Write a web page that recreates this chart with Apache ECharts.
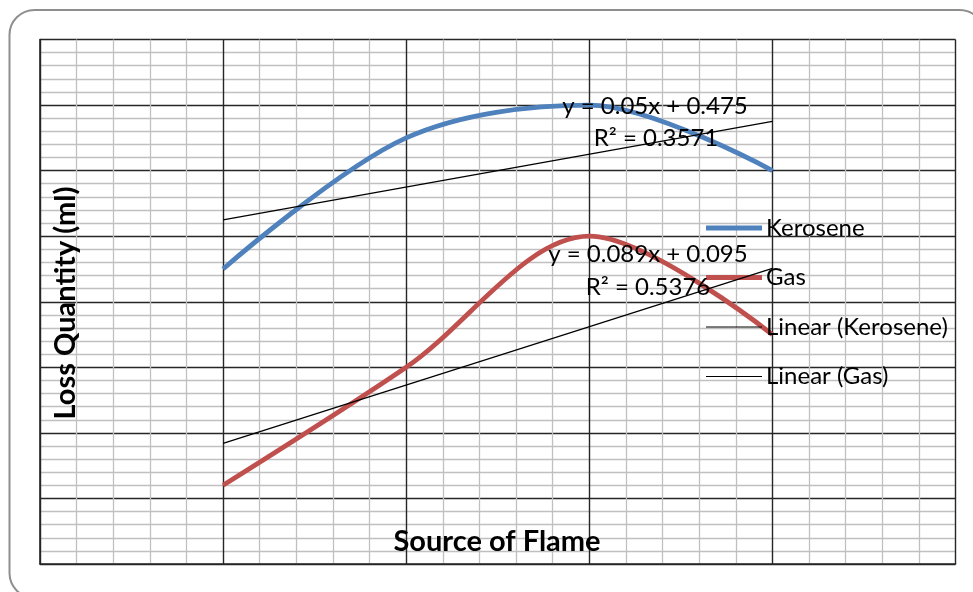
<!DOCTYPE html>
<html>
<head>
<meta charset="utf-8">
<script src="https://cdn.jsdelivr.net/npm/echarts@6/dist/echarts.min.js"></script>
<style>
html,body{margin:0;padding:0;background:#fff;}
#chart{width:973px;height:592px;}
</style>
</head>
<body>
<div id="chart"></div>
<script>
// ---- data ----
const xValues = [1, 2, 3, 4];
const kerosene = [0.45, 0.65, 0.70, 0.60];
const gas = [0.12, 0.30, 0.50, 0.35];
const trendX = [1, 4];
const keroseneTrend = [0.525, 0.675];
const gasTrend = [0.184, 0.451];
const seriesNames = ['Kerosene', 'Gas', 'Linear (Kerosene)', 'Linear (Gas)'];
const keroseneEq = ['y = 0.05x + 0.475', 'R² = 0.3571'];
const gasEq = ['y = 0.089x + 0.095', 'R² = 0.5376'];
const xTitle = 'Source of Flame';
const yTitle = 'Loss Quantity (ml)';

const pair = (xs, ys) => xs.map((x, i) => [x, ys[i]]);
const FONT = 'Lato, "Liberation Sans", sans-serif';
const BLUE = '#4F81BD', RED = '#C0504D';

const chart = echarts.init(document.getElementById('chart'), null, {renderer: 'canvas'});

const majorLine = {show: true, lineStyle: {color: '#262626', width: 1.4}};
const minorLine = {show: true, lineStyle: {color: '#c0c0c0', width: 1.3}};

// legend swatches: a band inside a 56x14 box (leading moves fix the box)
const thickIcon = 'path://M0,0M56,14M0,4.6L56,4.6L56,9.4L0,9.4Z';
const thinIcon = 'path://M0,0M56,14M0,6.4L56,6.4L56,7.6L0,7.6Z';

const option = {
  animation: false,
  backgroundColor: '#fff',
  grid: {left: 40, right: 17.5, top: 39.5, bottom: 28, containLabel: false},
  xAxis: {
    type: 'value', min: 0, max: 5, interval: 1,
    axisLine: {show: true, lineStyle: {color: '#262626', width: 1.6}},
    axisTick: {show: false}, axisLabel: {show: false},
    splitLine: majorLine,
    minorTick: {show: false, splitNumber: 5},
    minorSplitLine: minorLine
  },
  yAxis: {
    type: 'value', min: 0, max: 0.8, interval: 0.1,
    axisLine: {show: true, lineStyle: {color: '#262626', width: 1.6}},
    axisTick: {show: false}, axisLabel: {show: false},
    splitLine: majorLine,
    minorTick: {show: false, splitNumber: 5},
    minorSplitLine: minorLine
  },
  legend: {
    orient: 'vertical',
    left: 701, top: 211,
    itemWidth: 56, itemHeight: 14, itemGap: 25.5,
    textStyle: {fontFamily: FONT, fontSize: 24, lineHeight: 24, color: '#000', padding: [0, 0, 0, -1]},
    data: [
      {name: seriesNames[0], icon: thickIcon, itemStyle: {color: BLUE, borderWidth: 0}},
      {name: seriesNames[1], icon: thickIcon, itemStyle: {color: RED, borderWidth: 0}},
      {name: seriesNames[2], icon: thinIcon, itemStyle: {color: '#000', borderWidth: 0}},
      {name: seriesNames[3], icon: thinIcon, itemStyle: {color: '#000', borderWidth: 0}}
    ]
  },
  series: [
    {name: seriesNames[0], type: 'line', data: pair(xValues, kerosene), smooth: 0.33,
     symbol: 'none', lineStyle: {color: BLUE, width: 4.8}, itemStyle: {color: BLUE}, z: 3},
    {name: seriesNames[1], type: 'line', data: pair(xValues, gas), smooth: 0.33,
     symbol: 'none', lineStyle: {color: RED, width: 4.8}, itemStyle: {color: RED}, z: 3},
    {name: seriesNames[2], type: 'line', data: pair(trendX, keroseneTrend),
     symbol: 'none', lineStyle: {color: '#000', width: 1.2}, itemStyle: {color: '#000'}, z: 4},
    {name: seriesNames[3], type: 'line', data: pair(trendX, gasTrend),
     symbol: 'none', lineStyle: {color: '#000', width: 1.2}, itemStyle: {color: '#000'}, z: 4}
  ],
  graphic: [
    {type: 'rect', z: -10, silent: true,
     shape: {x: 9.5, y: 10, width: 975, height: 588, r: 25},
     style: {fill: 'none', stroke: '#8f8f8f', lineWidth: 2}},
    {type: 'text', z: 100, x: 66, y: 303, rotation: Math.PI / 2,
     style: {text: yTitle, font: 'bold 29px ' + FONT, fill: '#000', align: 'center', verticalAlign: 'middle'}},
    {type: 'text', z: 100, x: 497, y: 542,
     style: {text: xTitle, font: 'bold 29px ' + FONT, fill: '#000', align: 'center', verticalAlign: 'middle'}},
    {type: 'text', z: 100, x: 655, y: 106,
     style: {text: keroseneEq[0], font: '24px ' + FONT, fill: '#000', align: 'center', verticalAlign: 'middle'}},
    {type: 'text', z: 100, x: 656, y: 138,
     style: {text: keroseneEq[1], font: '24px ' + FONT, fill: '#000', align: 'center', verticalAlign: 'middle'}},
    {type: 'text', z: 100, x: 648, y: 254,
     style: {text: gasEq[0], font: '24px ' + FONT, fill: '#000', align: 'center', verticalAlign: 'middle'}},
    {type: 'text', z: 100, x: 648, y: 287,
     style: {text: gasEq[1], font: '24px ' + FONT, fill: '#000', align: 'center', verticalAlign: 'middle'}}
  ]
};
chart.setOption(option);
</script>
</body>
</html>
